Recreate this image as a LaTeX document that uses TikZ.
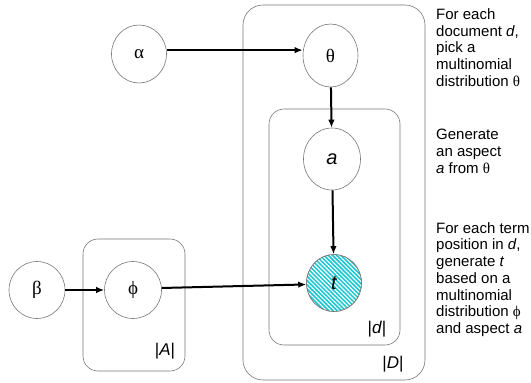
\documentclass[tikz,border=0pt]{standalone}
\usepackage{fontspec}
\setmainfont{Liberation Sans}
\newfontfamily\grk{Liberation Serif}
\usetikzlibrary{shapes.geometric,arrows.meta,patterns.meta}
\definecolor{hatchcyan}{RGB}{30,200,210}
\definecolor{linegray}{RGB}{120,120,120}
\begin{document}
\begin{tikzpicture}[x=1pt,y=-1pt,
  var/.style={draw=linegray, line width=0.6pt, ellipse, fill=white, inner sep=0pt},
  plate/.style={draw=linegray, line width=0.6pt, rounded corners=#1},
  edge/.style={-{Latex[length=8pt,width=6.5pt]}, line width=2pt, black},
  note/.style={anchor=north west, inner sep=0pt, align=left, font=\fontsize{15}{16.7}\selectfont},
  platelabel/.style={inner sep=0pt, font=\fontsize{17}{20}\selectfont},
  glabel/.style={font=\grk\fontsize{19}{21}\selectfont},
  ilabel/.style={font=\fontsize{20}{22}\selectfont\itshape}
]
\useasboundingbox (0,0) rectangle (531,383);

% plates
\draw[plate=20pt] (243,5) rectangle (425,380);
\draw[plate=15pt] (269,109) rectangle (400,345);
\draw[plate=15pt] (83,239) rectangle (185,371);

\node[platelabel] (labD) at (393,364) {|\textit{D}|};
\node[platelabel] (labd) at (377,329) {|\textit{d}|};
\node[platelabel] (labA) at (165,351) {|\textit{A}|};

% variables
\node[var, glabel, minimum width=55pt, minimum height=58pt] (alpha) at (139,54) {α};
\node[var, glabel, minimum width=55pt, minimum height=63pt] (theta) at (330.5,55.5) {θ};
\node[var, ilabel, minimum width=57pt, minimum height=62pt] (a) at (332,159) {a};
\node[var, ilabel, minimum width=55pt, minimum height=57pt, fill=hatchcyan,
      postaction={pattern={Lines[angle=-45,distance=3pt,line width=1.1pt]}, pattern color=white},
      postaction={draw=linegray, line width=0.6pt}] (t) at (334,283) {t};
\node[var, glabel, minimum width=56pt, minimum height=57pt] (beta) at (37,290) {β};
\node[var, glabel, minimum width=57pt, minimum height=57pt] (phi) at (133,290) {ϕ};

% edges
\draw[edge] (alpha.8) -- (theta.west |- alpha.8);
\draw[edge] (theta) -- (a);
\draw[edge] (a) -- (t);
\draw[edge] (beta) -- (phi);
\draw[edge] (phi.4) -- (t.183);

% notes
\node[note] (n1) at (436,8.5) {For each\\document \textit{d},\\pick a\\multinomial\\distribution {\grk θ}};
\node[note] (n2) at (436,129.2) {Generate\\an aspect\\\textit{a} from {\grk θ}};
\node[note] (n3) at (436,222.2) {For each term\\position in \textit{d},\\generate \textit{t}\\based on a\\multinomial\\distribution {\grk ϕ}\\and aspect \textit{a}};
\end{tikzpicture}
\end{document}
